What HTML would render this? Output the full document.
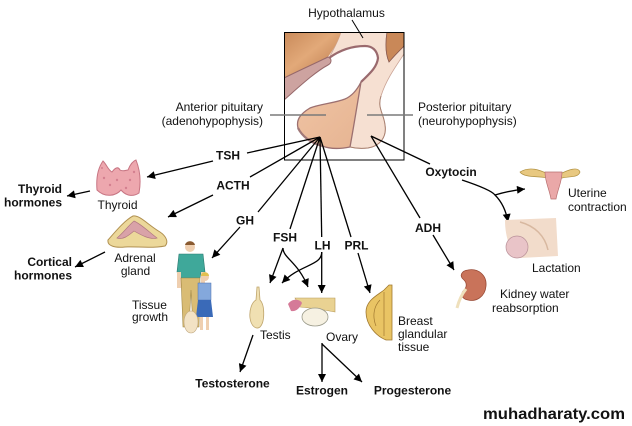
<!DOCTYPE html>
<html><head><meta charset="utf-8"><style>
html,body{margin:0;padding:0;background:#fff;}
svg{display:block;}
text{font-family:"Liberation Sans",Arial,sans-serif;fill:#111;}
.r{font-size:12px;}
.b{font-size:12px;font-weight:bold;}
</style></head><body>
<svg width="632" height="426" viewBox="0 0 632 426" xmlns="http://www.w3.org/2000/svg">
<defs>
<marker id="ah" viewBox="0 0 10 10" refX="10" refY="5" markerWidth="9" markerHeight="8" markerUnits="userSpaceOnUse" orient="auto">
<path d="M0,0 L10,5 L0,10 Z" fill="#000"/>
</marker>
<linearGradient id="brown" x1="0" y1="0" x2="1" y2="1">
<stop offset="0" stop-color="#c98a5a"/><stop offset="0.45" stop-color="#e2a979"/><stop offset="1" stop-color="#b87548"/>
</linearGradient>
<linearGradient id="ant" x1="0" y1="0" x2="1" y2="1">
<stop offset="0" stop-color="#f0c4a4"/><stop offset="1" stop-color="#e6b492"/>
</linearGradient>
<clipPath id="box"><rect x="284" y="32" width="120" height="128"/></clipPath>
</defs>

<!-- pituitary box -->
<g clip-path="url(#box)">
<rect x="284" y="32" width="120" height="128" fill="#fff"/>
<path d="M341,32 L387,32 C385,45 386,55 389,62 C394,56 400,50 404,46 L404,54 C396,66 386,80 381,96 C377,108 384,114 385,125 C387,137 380,146 368,148 C360,149 354,148 350,147 C352,130 355,105 361,82 C368,75 377,68 378,58 C377,50 372,46 365,46 C352,46 340,50 329,58 C333,50 338,42 341,32 Z" fill="#f6e0d2" stroke="#c9a294" stroke-width="0.8"/>
<path d="M284,32 L341,32 C338,42 333,50 328,57 C318,62 300,70 284,78 Z" fill="url(#brown)"/>
<path d="M284,78 C300,70 318,62 328,57 C332,58 332,63 328,65 C315,72 300,86 284,100 Z" fill="#cda3a0" stroke="#96686a" stroke-width="1"/>
<path d="M387,32 L404,32 L404,46 C400,50 394,56 389,62 C386,55 385,45 387,32 Z" fill="#c98858" stroke="#8a5a50" stroke-width="0.8"/>
<path d="M329,58 C340,50 352,46 365,46 C372,46 377,50 378,58 C377,68 368,75 361,82" fill="none" stroke="#9a6a6e" stroke-width="2.2"/>
<path d="M361,82 C358,100 354,125 350,147 C340,149 330,149 322,146 C312,143 303,138 298,128 C296,120 300,114 310,108 C320,104 335,103 345,99 C352,96 357,90 361,82 Z" fill="url(#ant)" stroke="#9c7070" stroke-width="1.3"/>
<path d="M298,128 C303,138 312,143 322,146" fill="none" stroke="#a07878" stroke-width="2.2"/>
<path d="M381,96 C377,108 384,114 385,125 C387,137 380,146 368,148 C360,149 354,148 350,147" fill="none" stroke="#a88070" stroke-width="1"/>
</g>
<rect x="284.5" y="32.5" width="119.5" height="127.5" fill="none" stroke="#000" stroke-width="1"/>

<!-- pointer lines -->
<line x1="270" y1="115" x2="326" y2="115" stroke="#7a7a7a" stroke-width="1.5"/>
<line x1="367" y1="115" x2="413" y2="115" stroke="#7a7a7a" stroke-width="1.5"/>
<line x1="352" y1="20" x2="363" y2="38" stroke="#000" stroke-width="1"/>

<!-- labels top -->
<text class="r" x="346.5" y="17" text-anchor="middle">Hypothalamus</text>
<text class="r" x="263" y="111" text-anchor="end">Anterior pituitary</text>
<text class="r" x="263" y="125" text-anchor="end">(adenohypophysis)</text>
<text class="r" x="418" y="111">Posterior pituitary</text>
<text class="r" x="418" y="125">(neurohypophysis)</text>

<!-- hormone lines -->
<g stroke="#000" stroke-width="1.3" fill="none">
<line x1="320" y1="137" x2="247" y2="153"/>
<line x1="213" y1="161" x2="147" y2="177" marker-end="url(#ah)"/>
<line x1="320" y1="137" x2="250" y2="177"/>
<line x1="213" y1="195" x2="168" y2="217" marker-end="url(#ah)"/>
<line x1="320" y1="137" x2="258" y2="212"/>
<line x1="240" y1="227" x2="212" y2="258" marker-end="url(#ah)"/>
<line x1="320" y1="137" x2="290" y2="229"/>
<line x1="283" y1="248" x2="270" y2="283" marker-end="url(#ah)"/>
<path d="M283,248 C283,258 298,262 308,287" marker-end="url(#ah)"/>
<line x1="320" y1="137" x2="321.7" y2="237"/>
<line x1="321.7" y1="252" x2="321.7" y2="293" marker-end="url(#ah)"/>
<path d="M321.7,252 C322,266 300,264 282,283" marker-end="url(#ah)"/>
<line x1="320" y1="137" x2="351" y2="237"/>
<line x1="358" y1="253" x2="370" y2="293" marker-end="url(#ah)"/>
<line x1="371" y1="136" x2="420" y2="218"/>
<line x1="433" y1="235" x2="454" y2="270" marker-end="url(#ah)"/>
<line x1="371" y1="136" x2="430" y2="164"/>
<path d="M462,180 C480,186 492,191 495,195 C505,192 515,190 525,189" marker-end="url(#ah)"/>
<path d="M495,195 C502,202 506,210 508,222" marker-end="url(#ah)"/>
<line x1="90" y1="191" x2="67" y2="196" marker-end="url(#ah)"/>
<line x1="105" y1="252" x2="75" y2="267" marker-end="url(#ah)"/>
<line x1="253" y1="335" x2="240" y2="372" marker-end="url(#ah)"/>
<line x1="322" y1="343" x2="322" y2="382" marker-end="url(#ah)"/>
<line x1="322" y1="344" x2="362" y2="382" marker-end="url(#ah)"/>
</g>

<!-- thyroid -->
<path d="M97,190 C96,178 98,168 103,161 C107,165 108,170 112,172 C115,168 118,166 120,170 C123,172 126,170 128,170 C130,165 133,161 136,160 C140,170 141,182 139,193 C133,197 126,196 121,190 C116,196 105,198 97,190 Z" fill="#eda7ae" stroke="#c77482" stroke-width="1"/>
<g fill="#d48090"><circle cx="104" cy="178" r="1.2"/><circle cx="110" cy="185" r="1.2"/><circle cx="130" cy="180" r="1.2"/><circle cx="126" cy="188" r="1.2"/><circle cx="117" cy="180" r="1.2"/><circle cx="134" cy="172" r="1.2"/><circle cx="102" cy="168" r="1"/></g>

<!-- adrenal -->
<path d="M108,240 C115,232 125,220 133,216 C140,215 148,225 160,232 C166,236 169,242 165,246 C150,249 135,246 125,247 C115,248 107,246 108,240 Z" fill="#ecd89a" stroke="#b09050" stroke-width="1"/>
<path d="M117,238 C124,232 129,225 134,221 C141,224 149,232 157,238 C150,240 141,235 134,231 C128,236 123,240 117,238 Z" fill="#d9a2a8" stroke="#b07880" stroke-width="0.7"/>

<!-- family -->
<g>
<circle cx="190" cy="247" r="5" fill="#efcfb0"/>
<path d="M185,245 C186,240 194,240 195,245 Z" fill="#8a5a30"/>
<path d="M179,254 L203,254 L205,272 L201,272 L200,278 L181,278 L180,272 L177,272 Z" fill="#3fa89a" stroke="#2a7a70" stroke-width="0.6"/>
<rect x="177" y="272" width="4" height="16" fill="#efcfb0"/>
<rect x="201" y="272" width="4" height="14" fill="#efcfb0"/>
<path d="M181,278 L200,278 L199,327 L193,327 L191,290 L189,327 L183,327 Z" fill="#d9bc74" stroke="#a08848" stroke-width="0.6"/>
<circle cx="205" cy="277" r="4" fill="#efcfb0"/>
<path d="M201,276 C201,271 209,271 209,276 Z" fill="#e0c050"/>
<rect x="198" y="283" width="13" height="17" fill="#84a8dc" stroke="#4a70b0" stroke-width="0.5"/>
<path d="M198,300 L211,300 L213,317 L196,317 Z" fill="#3a6ab8"/>
<rect x="200" y="317" width="3" height="13" fill="#efcfb0"/>
<rect x="206" y="317" width="3" height="13" fill="#efcfb0"/>
<ellipse cx="191" cy="322" rx="7" ry="11" fill="#f2e2c4" stroke="#c0a880" stroke-width="0.6"/>
</g>

<!-- testis -->
<path d="M257,287 L259,287 L260,300 C265,305 265,322 260,327 C256,330 251,326 250,318 C249,310 252,302 256,300 Z" fill="#f0e0b2" stroke="#bfa56c" stroke-width="0.8"/>

<!-- ovary -->
<path d="M295,298 L335,298 L335,312 C325,310 312,308 300,307 Z" fill="#e9d292" stroke="#b89a58" stroke-width="0.6"/>
<path d="M288,304 C292,298 300,299 302,303 C300,308 296,312 291,311 Z" fill="#d57a98"/>
<ellipse cx="315" cy="317" rx="13" ry="9" fill="#f6f1e2" stroke="#9a9a8a" stroke-width="0.8"/>

<!-- breast -->
<path d="M389,285 L392,285 L392,340 L386,340 C376,336 366,325 366,312 C366,300 378,295 384,290 Z" fill="#e9c464" stroke="#a07830" stroke-width="0.8"/>
<path d="M384,292 L384,336 M380,300 C374,306 372,316 376,326" stroke="#a07830" stroke-width="0.7" fill="none"/>

<!-- kidney -->
<path d="M468,270 C478,268 487,275 486,286 C485,297 476,302 468,300 C462,299 460,294 464,290 C467,287 467,283 464,280 C459,276 461,271 468,270 Z" fill="#c9735a" stroke="#9a4c38" stroke-width="0.8"/>
<path d="M466,289 C462,294 459,300 457,308" stroke="#efe0bc" stroke-width="3" fill="none"/>

<!-- uterus -->
<path d="M520,172 C530,166 540,170 548,174 L560,174 C568,170 578,166 580,172 C578,178 570,176 562,178 L548,178 C540,176 524,178 520,172 Z" fill="#e8c880" stroke="#b09040" stroke-width="0.7"/>
<path d="M545,172 L562,172 C562,182 558,188 556,199 L551,199 C549,188 545,182 545,172 Z" fill="#eaa8a8" stroke="#b87070" stroke-width="0.7"/>

<!-- lactation -->
<path d="M505,220 L556,218 L558,256 L520,258 C512,254 505,240 505,220 Z" fill="#f2dccb"/>
<path d="M520,222 C535,226 545,236 548,250" stroke="#d8b8a0" stroke-width="1.5" fill="none"/>
<circle cx="517" cy="247" r="11" fill="#e9c4c8" stroke="#b89098" stroke-width="0.7"/>

<!-- regular labels -->
<text class="r" x="117.5" y="209" text-anchor="middle">Thyroid</text>
<text class="r" x="135" y="262" text-anchor="middle">Adrenal</text>
<text class="r" x="135.5" y="275" text-anchor="middle">gland</text>
<text class="r" x="132" y="309">Tissue</text>
<text class="r" x="132" y="321">growth</text>
<text class="r" x="260" y="339">Testis</text>
<text class="r" x="326" y="341">Ovary</text>
<text class="r" x="398" y="325">Breast</text>
<text class="r" x="398" y="338">glandular</text>
<text class="r" x="398" y="351">tissue</text>
<text class="r" x="568" y="197">Uterine</text>
<text class="r" x="568" y="211">contraction</text>
<text class="r" x="532" y="272">Lactation</text>
<text class="r" x="500" y="298">Kidney water</text>
<text class="r" x="492" y="312">reabsorption</text>

<!-- bold labels -->
<text class="b" x="228" y="159.5" text-anchor="middle">TSH</text>
<text class="b" x="233" y="189.5" text-anchor="middle">ACTH</text>
<text class="b" x="245" y="224.5" text-anchor="middle">GH</text>
<text class="b" x="285" y="241.5" text-anchor="middle">FSH</text>
<text class="b" x="322.5" y="249.5" text-anchor="middle">LH</text>
<text class="b" x="356.5" y="249.5" text-anchor="middle">PRL</text>
<text class="b" x="428" y="232" text-anchor="middle">ADH</text>
<text class="b" x="451" y="176" text-anchor="middle">Oxytocin</text>
<text class="b" x="62" y="193" text-anchor="end">Thyroid</text>
<text class="b" x="62" y="206.5" text-anchor="end">hormones</text>
<text class="b" x="72" y="266" text-anchor="end">Cortical</text>
<text class="b" x="72" y="279.5" text-anchor="end">hormones</text>
<text class="b" x="232.5" y="387.5" text-anchor="middle">Testosterone</text>
<text class="b" x="322" y="394.5" text-anchor="middle">Estrogen</text>
<text class="b" x="412.5" y="394.5" text-anchor="middle">Progesterone</text>

<text x="483" y="419" style="font-size:16px;font-weight:bold;" textLength="142" lengthAdjust="spacingAndGlyphs">muhadharaty.com</text>
</svg>
</body></html>
